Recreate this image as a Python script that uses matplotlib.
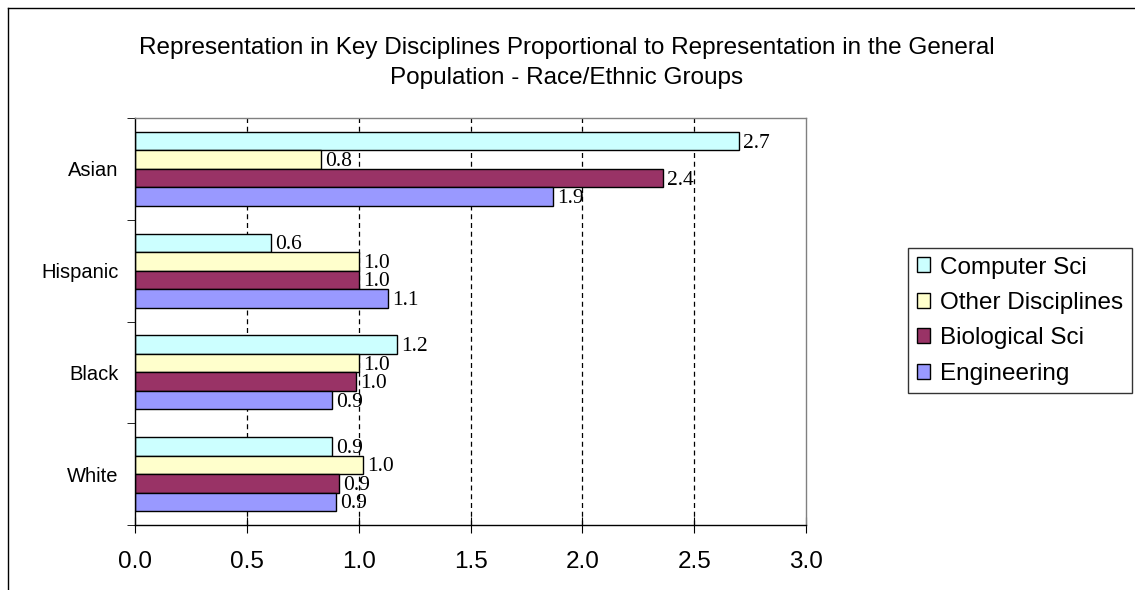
import matplotlib
matplotlib.use("Agg")
import matplotlib.pyplot as plt
from matplotlib.lines import Line2D
import numpy as np

categories = ["White", "Black", "Hispanic", "Asian"]
series_names = ["Computer Sci", "Other Disciplines", "Biological Sci", "Engineering"]
computer_sci = [0.88, 1.17, 0.61, 2.70]
other_disc = [1.02, 1.00, 1.00, 0.83]
bio_sci = [0.91, 0.99, 1.00, 2.36]
engineering = [0.90, 0.88, 1.13, 1.87]
x_ticks = [0.0, 0.5, 1.0, 1.5, 2.0, 2.5, 3.0]
title = ("Representation in Key Disciplines Proportional to Representation in the General\n"
         "Population - Race/Ethnic Groups")

colors = ["#CCFFFF", "#FFFFCC", "#993366", "#9999FF"]
series = [computer_sci, other_disc, bio_sci, engineering]

W, H = 1135, 590
fig = plt.figure(figsize=(W / 100, H / 100), dpi=100)
ax = fig.add_axes([135 / W, 1 - 525 / H, (806 - 135) / W, (525 - 118) / H])

sans = "Liberation Sans"
serif = "Liberation Serif"

h = 1 / 5.5
offsets = [1.5 * h, 0.5 * h, -0.5 * h, -1.5 * h]
y = np.arange(len(categories))
for vals, c, off, name in zip(series, colors, offsets, series_names):
    bars = ax.barh(y + off, vals, height=h, color=c, edgecolor="black",
                   linewidth=1.0, label=name, zorder=3)
    for b, v in zip(bars, vals):
        ax.annotate(f"{v:.1f}", (b.get_width(), b.get_y() + b.get_height() / 2),
                    xytext=(3, -1.5), textcoords="offset points", ha="left", va="center",
                    fontsize=15.5, family=serif, zorder=4)

ax.set_xlim(0, 3.0)
ax.set_ylim(-0.5, len(categories) - 0.5)
ax.set_xticks(x_ticks)
ax.set_xticklabels([f"{t:.1f}" for t in x_ticks], family=sans, fontsize=17.5)
ax.set_yticks(y)
ax.set_yticklabels(categories, family=sans, fontsize=14.5)
ax.tick_params(axis="y", length=0, pad=12)
ax.set_yticks(np.arange(-0.5, len(categories), 1.0), minor=True)
ax.tick_params(axis="y", which="minor", length=6, direction="out", color="black")
ax.tick_params(axis="x", length=12, direction="inout", color="black", pad=13)

for gx in x_ticks[1:-1]:
    ax.axvline(gx, color="black", linestyle=(0, (4, 3)), linewidth=0.9, zorder=1)

ax.spines["left"].set_color("black")
ax.spines["bottom"].set_color("black")
ax.spines["top"].set_color("#808080")
ax.spines["right"].set_color("#808080")
for s in ax.spines.values():
    s.set_linewidth(1.0)
    s.set_zorder(5)

fig.text(567 / W, 1 - 63 / H, title, ha="center", va="center", family=sans,
         fontsize=17.5, linespacing=1.45)

handles, labels = ax.get_legend_handles_labels()
leg = fig.legend(handles, labels, loc="upper left",
                 bbox_to_anchor=(908 / W, 1 - 248 / H), frameon=True,
                 prop={"family": sans, "size": 17.5}, fancybox=False,
                 handlelength=0.57, handleheight=0.57, handletextpad=0.4,
                 labelspacing=0.55, borderpad=0.35, borderaxespad=0)
leg.get_frame().set_edgecolor("black")
leg.get_frame().set_linewidth(1.0)

fig.add_artist(Line2D([8 / W, 8 / W], [0, 1 - 8 / H], transform=fig.transFigure,
                      color="black", linewidth=1.0))
fig.add_artist(Line2D([8 / W, 1], [1 - 8 / H, 1 - 8 / H], transform=fig.transFigure,
                      color="black", linewidth=1.0))

fig.savefig("out.png", dpi=100)
